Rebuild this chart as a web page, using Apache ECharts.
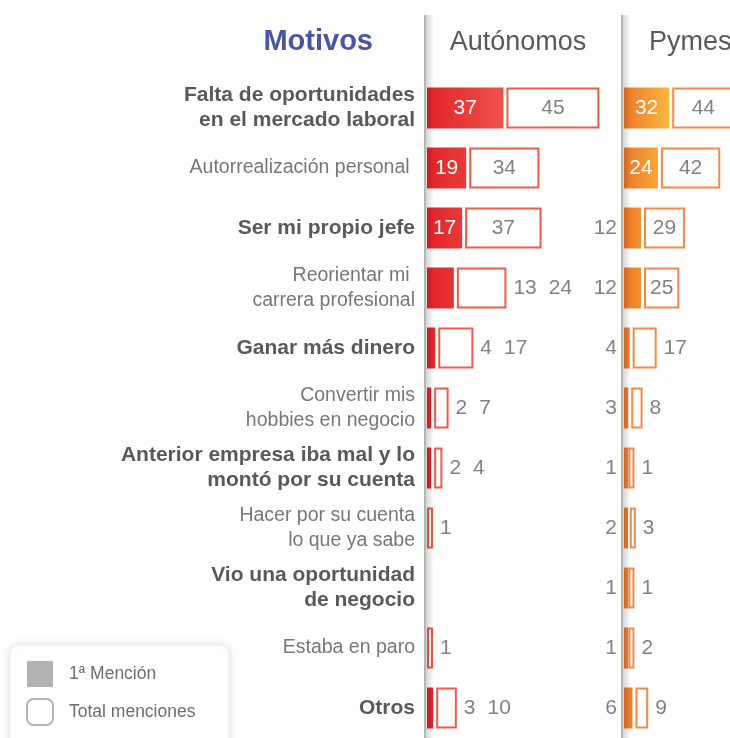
<!DOCTYPE html>
<html>
<head>
<meta charset="utf-8">
<title>Motivos</title>
<script src="https://cdn.jsdelivr.net/npm/echarts@6/dist/echarts.min.js"></script>
<style>
  html, body { margin: 0; padding: 0; background: #fff; }
  #chart { width: 730px; height: 738px; }
</style>
</head>
<body>
<div id="chart"></div>
<script>
// datos
const categories = [
  'Falta de oportunidades\nen el mercado laboral',
  'Autorrealización personal ',
  'Ser mi propio jefe',
  'Reorientar mi \ncarrera profesional',
  'Ganar más dinero',
  'Convertir mis\nhobbies en negocio',
  'Anterior empresa iba mal y lo\nmontó por su cuenta',
  'Hacer por su cuenta\nlo que ya sabe',
  'Vio una oportunidad\nde negocio',
  'Estaba en paro',
  'Otros'
]
const panelTitles = ['Autónomos', 'Pymes']
const autonomosPrimera = [37, 19, 17, 13, 4, 2, 2, 0, 0, 0, 3]
const autonomosTotal = [45, 34, 37, 24, 17, 7, 4, 1, 0, 1, 10]
const pymesPrimera = [32, 24, 12, 12, 4, 3, 1, 2, 1, 1, 6]
const pymesTotal = [44, 42, 29, 25, 17, 8, 1, 3, 1, 2, 9]

const FONT = "'Liberation Sans', Helvetica, Arial, sans-serif"
const TOP = 78
const HEIGHT = 661
const GAP_PX = 3

// cada panel: grid + ejes + 3 series apiladas (primera, hueco, total)
// el panel de Pymes queda cortado por el borde derecho
const panels = [
  {
    left: 427, width: 190, max: 92, gradLen: 80,
    grad: ['#e2232a', '#f0544b'], border: '#f05a4b',
    innerFirst: 15, innerTotal: 30, smallFirst: 'after'
  },
  {
    left: 624, width: 106, max: 75, gradLen: 46,
    grad: ['#ee782b', '#fbb93b'], border: '#f38a4a',
    innerFirst: 20, innerTotal: 20, smallFirst: 'left'
  }
]
const firstData = [autonomosPrimera, pymesPrimera]
const totalData = [autonomosTotal, pymesTotal]

const valueLabel = { fontFamily: FONT, fontSize: 21, color: '#808285' }

const buildSeries = (idx) => {
  const p = panels[idx]
  const first = firstData[idx]
  const total = totalData[idx]
  const gapUnits = GAP_PX * p.max / p.width
  const fill = new echarts.graphic.LinearGradient(p.left, 0, p.left + p.gradLen, 0, [
    { offset: 0, color: p.grad[0] },
    { offset: 1, color: p.grad[1] }
  ], true)

  const firstItems = first.map((f) => {
    if (!f) return '-'
    const inside = f >= p.innerFirst
    return {
      value: f,
      label: {
        show: inside || p.smallFirst === 'left',
        position: inside ? 'inside' : 'left',
        distance: 7,
        color: inside ? '#fff' : '#808285'
      }
    }
  })
  const gapItems = first.map((f) => (f ? gapUnits : 0))
  const totalItems = total.map((t, i) => {
    if (!t) return '-'
    const inside = t >= p.innerTotal
    const f = first[i]
    let text = '{t|' + t + '}'
    if (!inside && p.smallFirst === 'after' && f && f < p.innerFirst) {
      text = '{f|' + f + '}{t|' + t + '}'
    }
    return {
      value: t,
      label: {
        show: true,
        position: inside ? 'inside' : 'right',
        distance: 7,
        formatter: text
      }
    }
  })

  return [
    {
      name: '1ª Mención',
      type: 'bar',
      stack: 'p' + idx,
      xAxisIndex: idx,
      yAxisIndex: idx,
      barWidth: 41,
      barMinHeight: 4,
      clip: false,
      itemStyle: { color: fill },
      label: Object.assign({ show: true }, valueLabel),
      data: firstItems,
      animation: false
    },
    {
      name: 'hueco',
      type: 'bar',
      stack: 'p' + idx,
      xAxisIndex: idx,
      yAxisIndex: idx,
      barWidth: 41,
      silent: true,
      clip: false,
      itemStyle: { color: 'rgba(0,0,0,0)' },
      data: gapItems,
      animation: false
    },
    {
      name: 'Total menciones',
      type: 'bar',
      stack: 'p' + idx,
      xAxisIndex: idx,
      yAxisIndex: idx,
      barWidth: 41,
      barMinHeight: 6,
      clip: false,
      itemStyle: { color: '#fff', borderColor: p.border, borderWidth: 2 },
      label: Object.assign({
        show: true,
        rich: {
          f: { fontFamily: FONT, fontSize: 21, color: '#808285', padding: [0, 12, 0, 0] },
          t: { fontFamily: FONT, fontSize: 21, color: '#808285' }
        }
      }, valueLabel),
      data: totalItems,
      animation: false
    }
  ]
}

const chart = echarts.init(document.getElementById('chart'))

const decor = [
  // caja de la leyenda
  {
    type: 'rect',
    z: 1,
    silent: true,
    shape: { x: 10, y: 645, width: 219, height: 120, r: 8 },
    style: {
      fill: '#fff',
      stroke: '#ededed',
      lineWidth: 1,
      shadowBlur: 10,
      shadowColor: 'rgba(0,0,0,0.12)'
    }
  }
]
panels.forEach((p) => {
  decor.push({
    type: 'rect',
    z: 100,
    silent: true,
    shape: { x: p.left - 1, y: 15, width: 8, height: 730 },
    style: {
      fill: new echarts.graphic.LinearGradient(0, 0, 1, 0, [
        { offset: 0, color: 'rgba(0,0,0,0.16)' },
        { offset: 1, color: 'rgba(0,0,0,0)' }
      ])
    }
  })
  decor.push({
    type: 'rect',
    z: 101,
    silent: true,
    shape: { x: p.left - 3, y: 15, width: 2, height: 730 },
    style: { fill: '#b4b5b7' }
  })
})

const option = {
  backgroundColor: '#fff',
  textStyle: { fontFamily: FONT },
  grid: panels.map((p) => ({ left: p.left, top: TOP, width: p.width, height: HEIGHT })),
  xAxis: panels.map((p, i) => ({
    type: 'value', gridIndex: i, min: 0, max: p.max, show: false
  })),
  yAxis: panels.map((p, i) => ({
    type: 'category',
    gridIndex: i,
    inverse: true,
    data: categories,
    axisLine: { show: false },
    axisTick: { show: false },
    axisLabel: {
      show: i === 0,
      margin: 12,
      formatter: (value, idx) => {
        const key = idx % 2 === 0 ? 'b' : 'l'
        return value.split('\n').map((line) => '{' + key + '|' + line + '}').join('\n')
      },
      rich: {
        b: { fontFamily: FONT, fontSize: 21, fontWeight: 'bold', color: '#58595b', lineHeight: 25, align: 'right' },
        l: { fontFamily: FONT, fontSize: 19.5, color: '#76777a', lineHeight: 25, align: 'right' }
      }
    }
  })),
  legend: {
    orient: 'vertical',
    left: 10,
    top: 645,
    padding: [16, 16, 0, 16],
    itemWidth: 26,
    itemHeight: 26,
    itemGap: 11,
    z: 5,
    selectedMode: false,
    textStyle: { fontFamily: FONT, fontSize: 17.5, color: '#6d6e71', padding: [0, 0, 0, 11] },
    data: [
      { name: '1ª Mención', icon: 'rect', itemStyle: { color: '#b1b2b4', borderWidth: 0 } },
      { name: 'Total menciones', icon: 'roundRect', itemStyle: { color: '#fff', borderColor: '#b1b2b4', borderWidth: 2 } }
    ]
  },
  graphic: [
    {
      type: 'text',
      x: 373,
      y: 42,
      style: {
        text: 'Motivos',
        fontFamily: FONT,
        fontSize: 29,
        fontWeight: 'bold',
        fill: '#4b56a3',
        align: 'right',
        verticalAlign: 'middle'
      }
    },
    {
      type: 'text',
      x: 518,
      y: 43,
      style: {
        text: panelTitles[0],
        fontFamily: FONT,
        fontSize: 27,
        fill: '#58595b',
        align: 'center',
        verticalAlign: 'middle'
      }
    },
    {
      type: 'text',
      x: 649,
      y: 43,
      style: {
        text: panelTitles[1],
        fontFamily: FONT,
        fontSize: 27,
        fill: '#58595b',
        align: 'left',
        verticalAlign: 'middle'
      }
    }
  ].concat(decor),
  series: buildSeries(0).concat(buildSeries(1))
}

chart.setOption(option)
window.addEventListener('resize', () => {
  chart.resize()
})
</script>
</body>
</html>
